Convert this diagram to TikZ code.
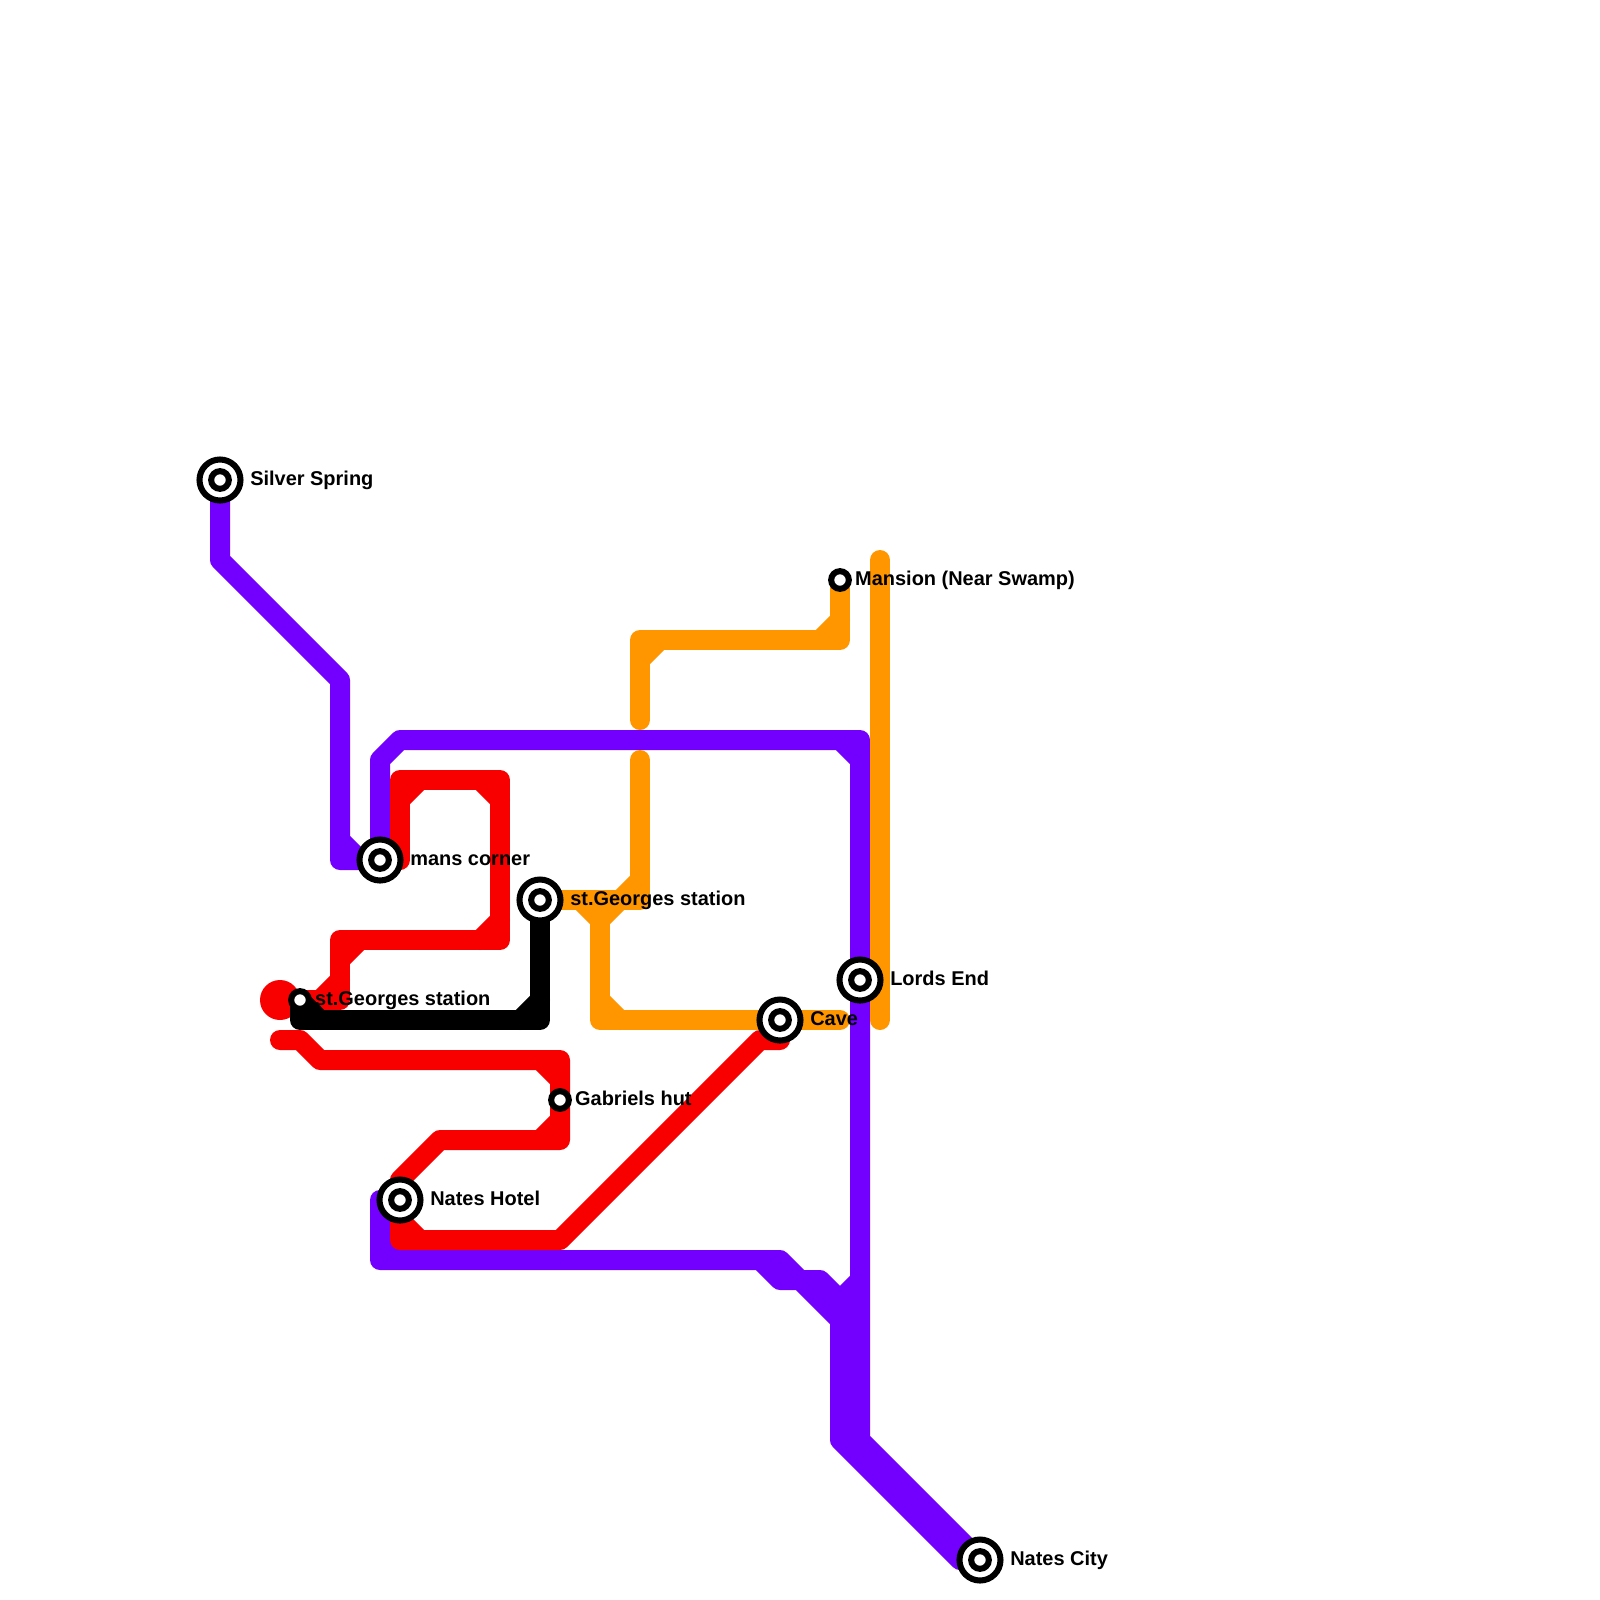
\documentclass[tikz,border=0pt]{standalone}
\usepackage{fontspec}
\setmainfont{Liberation Sans}
\usepackage{tikz}
\usetikzlibrary{positioning, backgrounds}
\definecolor{linepurple}{HTML}{7300FF}
\definecolor{linered}{HTML}{F80000}
\definecolor{lineorange}{HTML}{FF9600}
\tikzset{
  metro/.style={line width=5mm,line cap=round,line join=round},
  smallstop/.style={circle,draw,fill=white,line width=4.3pt,inner sep=0pt,minimum size=4.42mm},
  bigstop/.style={circle,draw,fill=white,line width=4.3pt,inner sep=0pt,minimum size=10.25mm,
    path picture={\draw[line width=4.3pt] (path picture bounding box.center) circle (2.21mm);}},
  stoptext/.style={inner sep=0pt,text height=11.3pt,text depth=3.9pt,
    font=\fontsize{14.2}{17}\selectfont\bfseries},
}

\begin{document}
\begin{tikzpicture}[x=0.5cm,y=-0.5cm]

\useasboundingbox (0,0) rectangle (80,80);

\node[bigstop] (sil) at (11,24) {};
\node[bigstop] (man) at (19,43) {};
\node[bigstop] (geo) at (27,45) {};
\node[bigstop] (hot) at (20,60) {};
\node[bigstop] (cav) at (39,51) {};
\node[bigstop] (lor) at (43,49) {};
\node[bigstop] (nat) at (49,78) {};
\node[smallstop] (stg) at (15,50) {};
\node[smallstop] (gab) at (28,55) {};
\node[smallstop] (mns) at (42,29) {};

\node[stoptext,right=4.6pt of sil] (silt) {Silver Spring};
\node[stoptext,right=4.6pt of man] (mant) {mans corner};
\node[stoptext,right=4.6pt of geo] (geot) {st.Georges station};
\node[stoptext,right=4.6pt of hot] (hott) {Nates Hotel};
\node[stoptext,right=4.6pt of cav] (cavt) {Cave};
\node[stoptext,right=4.6pt of lor] (lort) {Lords End};
\node[stoptext,right=4.6pt of nat] (natt) {Nates City};
\node[stoptext,right=2.15pt of stg] (stgt) {st.Georges station};
\node[stoptext,right=2.15pt of gab] (gabt) {Gabriels hut};
\node[stoptext,right=2.15pt of mns] (mnst) {Mansion (Near Swamp)};

\begin{scope}[on background layer]

\draw[metro,linepurple] (sil.center) -- (11,28) -- (17,34) -- (17,43) -- (man.center);
\draw[metro,linepurple] (17,42) -- (18,43);
\draw[metro,linepurple] (man.center) -- (19,38) -- (20,37) -- (43,37) -- (lor.center);
\draw[metro,linepurple] (42,37) -- (43,38);
\draw[metro,linepurple] (lor.center) -- (43,72) -- (nat.center);
\draw[metro,linepurple] (19,60) -- (19,63) -- (39,63) -- (40,64) -- (41,64) -- (42,65) -- (42,72) -- (48,78);
\draw[metro,linepurple] (19,62) -- (20,63);
\draw[metro,linepurple] (38,63) -- (39,64) -- (40,64) -- (42,66);
\draw[metro,linepurple] (42,65) -- (43,64);

\fill[linered] (14,50) circle (1);
\draw[metro,linered] (stg.center) -- (17,50) -- (17,47) -- (25,47) -- (25,39) -- (20,39) -- (20,43);
\draw[metro,linered] (16,50) -- (17,49);
\draw[metro,linered] (17,48) -- (18,47);
\draw[metro,linered] (24,47) -- (25,46);
\draw[metro,linered] (24,39) -- (25,40);
\draw[metro,linered] (20,40) -- (21,39);
\draw[metro,linered] (14,52) -- (15,52) -- (16,53) -- (28,53) -- (gab.center) -- (28,57) -- (22,57) -- (20,59) -- (hot.center);
\draw[metro,linered] (27,53) -- (28,54);
\draw[metro,linered] (27,57) -- (28,56);
\draw[metro,linered] (hot.center) -- (20,62) -- (28,62) -- (38,52) -- (39,52) -- (cav.center);
\draw[metro,linered] (20,61) -- (21,62);

\draw[metro,lineorange] (mns.center) -- (42,32) -- (32,32) -- (32,36);
\draw[metro,lineorange] (41,32) -- (42,31);
\draw[metro,lineorange] (32,33) -- (33,32);
\draw[metro,lineorange] (32,38) -- (32,45) -- (geo.center);
\draw[metro,lineorange] (31,45) -- (32,44);
\draw[metro,lineorange] (30,45) -- (30,51) -- (cav.center);
\draw[metro,lineorange] (29,45) -- (30,46) -- (31,45);
\draw[metro,lineorange] (30,50) -- (31,51);
\draw[metro,lineorange] (cav.center) -- (42,51);
\draw[metro,lineorange] (44,28) -- (44,51);

\draw[metro,black] (stg.center) -- (15,51) -- (27,51) -- (geo.center);
\draw[metro,black] (15,50) -- (16,51);
\draw[metro,black] (26,51) -- (27,50);

\end{scope}

\end{tikzpicture}
\end{document}
